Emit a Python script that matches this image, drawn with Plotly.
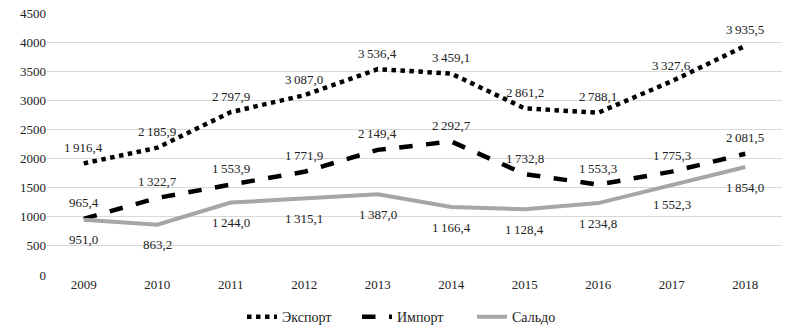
import plotly.graph_objects as go

years = ["2009", "2010", "2011", "2012", "2013", "2014", "2015", "2016", "2017", "2018"]
export_vals = [1916.4, 2185.9, 2797.9, 3087.0, 3536.4, 3459.1, 2861.2, 2788.1, 3327.6, 3935.5]
import_vals = [965.4, 1322.7, 1553.9, 1771.9, 2149.4, 2292.7, 1732.8, 1553.3, 1775.3, 2081.5]
saldo_vals = [951.0, 863.2, 1244.0, 1315.1, 1387.0, 1166.4, 1128.4, 1234.8, 1552.3, 1854.0]

def fmt(v):
    s = f"{v:.1f}".replace(".", ",")
    ip, dp = s.split(",")
    if len(ip) > 3:
        ip = ip[:-3] + "\u2009" + ip[-3:]
    return ip + "," + dp

font_family = "Liberation Serif, DejaVu Serif, serif"
txt_font = dict(family=font_family, size=13, color="#222")

fig = go.Figure()
fig.add_trace(go.Scatter(
    x=years, y=export_vals, name="Экспорт", mode="lines",
    line=dict(color="black", width=4.5, dash="dot"),
))
fig.add_trace(go.Scatter(
    x=years, y=import_vals, name="Импорт", mode="lines",
    line=dict(color="black", width=4.5, dash="dash"),
))
fig.add_trace(go.Scatter(
    x=years, y=saldo_vals, name="Сальдо", mode="lines",
    line=dict(color="#a6a6a6", width=4),
))

for vals, shift in [(export_vals, 16), (import_vals, 16), (saldo_vals, -20)]:
    for i, v in enumerate(vals):
        fig.add_annotation(x=i, y=v, xref="x", yref="y", text=fmt(v),
                           showarrow=False, yshift=shift, font=txt_font)

fig.update_layout(
    width=800, height=332,
    margin=dict(l=47, r=18, t=13, b=57, autoexpand=False),
    paper_bgcolor="white", plot_bgcolor="white",
    font=dict(family=font_family, size=13, color="#222"),
    showlegend=True,
    legend=dict(orientation="h", x=0.5, xanchor="center", y=-0.10, yanchor="top",
                entrywidth=70, entrywidthmode="pixels",
                font=dict(family=font_family, size=14, color="#222")),
    xaxis=dict(type="category", range=[-0.5, 9.5], showgrid=False, showline=False,
               ticks="", tickfont=dict(size=13), automargin=False),
    yaxis=dict(range=[0, 4500], dtick=500, showgrid=True, gridcolor="#d9d9d9",
               gridwidth=1, zeroline=False, showline=False, ticks="",
               tickfont=dict(size=13), automargin=False),
)

fig.write_html("out.html")
